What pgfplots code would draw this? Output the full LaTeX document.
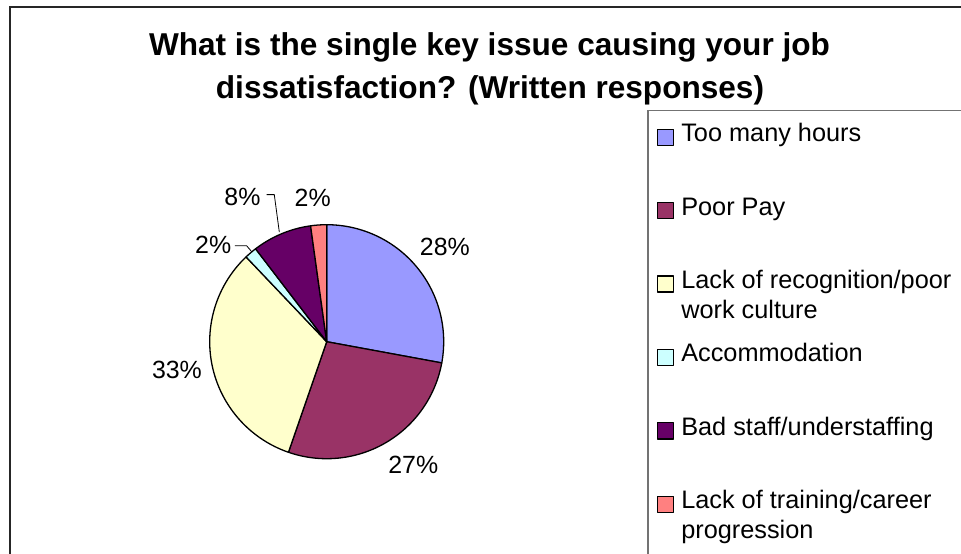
\documentclass[border=0pt]{standalone}
\usepackage{pgfplots}
\pgfplotsset{compat=1.18}
\usepackage{fontspec}
\setmainfont{Liberation Sans}

\definecolor{cA}{HTML}{9999FF}
\definecolor{cB}{HTML}{993366}
\definecolor{cC}{HTML}{FFFFCC}
\definecolor{cD}{HTML}{CCFFFF}
\definecolor{cE}{HTML}{660066}
\definecolor{cF}{HTML}{FF8080}

% shares (per cent), clockwise from 12 o'clock
\def\vA{27.9}% Too many hours
\def\vB{27.4}% Poor Pay
\def\vC{32.6}% Lack of recognition/poor work culture
\def\vD{1.7}%  Accommodation
\def\vE{8.2}%  Bad staff/understaffing
\def\vF{2.2}%  Lack of training/career progression

\pgfmathsetmacro\kA{\vA}
\pgfmathsetmacro\kB{\kA+\vB}
\pgfmathsetmacro\kC{\kB+\vC}
\pgfmathsetmacro\kD{\kC+\vD}
\pgfmathsetmacro\kE{\kD+\vE}
\pgfmathsetmacro\kF{\kE+\vF}
% angles (degrees, counter-clockwise from +x)
\pgfmathsetmacro\aO{90}
\pgfmathsetmacro\aA{90-3.6*\kA}
\pgfmathsetmacro\aB{90-3.6*\kB}
\pgfmathsetmacro\aC{90-3.6*\kC}
\pgfmathsetmacro\aD{90-3.6*\kD}
\pgfmathsetmacro\aE{90-3.6*\kE}
\pgfmathsetmacro\aF{90-3.6*\kF}

\newcommand\LE[1]{\raisebox{0pt}[31bp][0pt]{\parbox[t]{400bp}{\raggedright #1}}}

\begin{document}
\begin{tikzpicture}
\useasboundingbox (0,0) rectangle (961bp,-554bp);
\draw[line width=1.5bp, black!85] (1200bp,-7bp) -- (10bp,-7bp) -- (10bp,-800bp);
\node[anchor=base, font=\bfseries\fontsize{31.7}{38}\selectfont] at (489.5bp,-55.5bp) {What is the single key issue causing your job};
\node[anchor=base, font=\bfseries\fontsize{31.7}{38}\selectfont] at (490bp,-98bp) {dissatisfaction? (Written responses)};
\begin{axis}[
  at={(326.7bp,-341.7bp)}, anchor=origin,
  x=117bp, y=117bp,
  xmin=-1.4, xmax=1.4, ymin=-1.4, ymax=1.4,
  hide axis, clip=false,
  every axis plot/.append style={draw=black, line width=1.3bp, line join=round},
  legend image code/.code={\path (0bp,0bp); \draw[#1] (9bp,-3.5bp) rectangle (25bp,12.5bp);},
  legend cell align=left,
  legend style={at={(axis cs:2.746,1.974)}, anchor=north west, draw=black!55, line width=1.3bp,
    inner sep=0pt, outer sep=0pt, row sep={73.4bp,between origins}, column sep=7bp,
    font=\fontsize{25.4}{30}\selectfont,
    cells={anchor=base west}, nodes={inner sep=0pt}},
]
\addplot[fill=cA, domain=\aA:\aO, samples=80] ({cos(x)},{sin(x)}) -- (axis cs:0,0) -- cycle;
\addlegendentry{\LE{Too many hours}}
\addplot[fill=cB, domain=\aB:\aA, samples=80] ({cos(x)},{sin(x)}) -- (axis cs:0,0) -- cycle;
\addlegendentry{\LE{Poor Pay}}
\addplot[fill=cC, domain=\aC:\aB, samples=80] ({cos(x)},{sin(x)}) -- (axis cs:0,0) -- cycle;
\addlegendentry{\LE{Lack of recognition/poor\\work culture}}
\addplot[fill=cD, domain=\aD:\aC, samples=10] ({cos(x)},{sin(x)}) -- (axis cs:0,0) -- cycle;
\addlegendentry{\LE{Accommodation}}
\addplot[fill=cE, domain=\aE:\aD, samples=30] ({cos(x)},{sin(x)}) -- (axis cs:0,0) -- cycle;
\addlegendentry{\LE{Bad staff/understaffing}}
\addplot[fill=cF, domain=\aF:\aE, samples=10] ({cos(x)},{sin(x)}) -- (axis cs:0,0) -- cycle;
\addlegendentry{\LE{Lack of training/career\\progression}}
\addlegendimage{empty legend}
\addlegendentry{}

\begin{scope}[font=\fontsize{25}{30}\selectfont]
\node at (axis cs:1.01,0.81) {28\%};
\node at (axis cs:0.74,-1.056) {27\%};
\node at (axis cs:-1.28,-0.24) {33\%};
\node at (axis cs:-0.97,0.83) {2\%};
\node at (axis cs:-0.72,1.24) {8\%};
\node at (axis cs:-0.12,1.23) {2\%};
\end{scope}
\draw[line width=0.8bp] (axis cs:-0.784,0.82) -- (axis cs:-0.684,0.82) -- (axis cs:-0.641,0.769);
\draw[line width=0.8bp] (axis cs:-0.513,1.257) -- (axis cs:-0.448,1.257) -- (axis cs:-0.405,0.937);
\end{axis}
\end{tikzpicture}
\end{document}
